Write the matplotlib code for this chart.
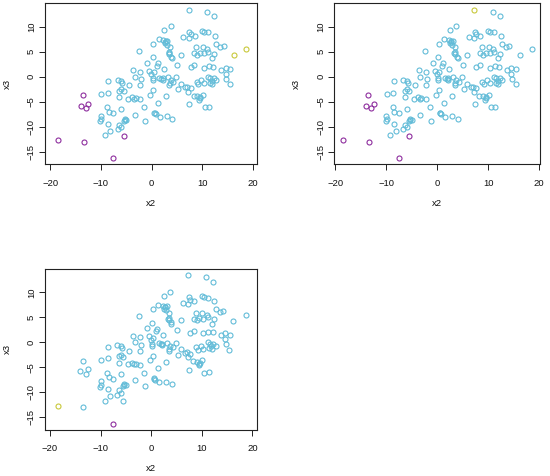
import matplotlib
matplotlib.use("Agg")
import matplotlib.pyplot as plt

plt.rcParams["font.family"] = ["Liberation Sans", "DejaVu Sans"]

# points; the first 11 are the ones that change colour between panels
x2 = [
    -18.5, -13.4, -13.5, -14.0, -12.5, -12.9, -7.5, -5.5, 16.2, 18.7, 7.3,
    # y > 5
    10.9, 12.3, 3.8, 2.5, 7.4, 7.7, 8.5, 10.0, 10.4, 11.2, 12.5, 6.3, 7.3, 1.4,
    2.3, 2.8, 3.1, 2.6, 3.0, 0.3, 12.8, 13.5, 14.2, 8.8, 10.1, 11.0, 3.6, -2.4, 2.7,
    # 2 .. 5
    3.5, 3.5, 3.9, 4.0, 5.8, 8.4, 9.0, 9.5, 10.3, 11.2, 12.4, 12.0, -0.9, 1.2,
    1.0, 5.1, 7.7, 8.4, 10.3, 11.3, 12.2, 13.8, 14.6, 15.5, 0.2, 3.4,
    # -2 .. 2
    -3.6, -2.2, -0.4, 0.4, -0.1, 2.4, -3.3, -2.0, 0.2, 0.2, 1.5, 2.2, 3.2, 4.8,
    2.2, 3.8, 4.3, 3.5, 3.6, 8.9, 9.8, 11.2, 11.6, 11.9, 12.7, 11.5, 12.0, 14.6,
    14.7, 15.4, -8.5, -6.7, -6.0, -5.8, -4.4, -2.2, 5.9, 9.2, 10.3, 1.9, 12.3,
    # -5 .. -2
    7.0, 7.7, 6.6, -9.9, -8.6, -6.4, -6.0, -5.5, -6.4, -3.8, -3.4, -2.2, -4.6,
    -0.3, 0.3, 2.9, 5.2, 7.2, 8.3, 9.0, 9.5, 10.1, 9.4, -3.1, 9.6,
    # -10 .. -5
    7.4, 1.3, -1.5, -6.0, -8.7, -8.4, -7.5, -10.0, -9.9, -10.1, -5.3, -5.0, -5.5,
    -3.3, 0.5, 0.8, 1.6, 3.0, 4.1, -1.2, -8.5, -6.4, -6.0, -6.7, 10.5, 11.4, 0.6,
    -5.3,
    # below -10
    -8.1, -9.2,
]
x3 = [
    -12.7, -13.0, -3.7, -5.8, -5.4, -6.3, -16.3, -11.8, 4.3, 5.5, 13.4,
    13.0, 12.1, 10.1, 9.3, 9.0, 8.5, 8.2, 9.2, 9.0, 8.9, 8.2, 7.9, 7.7, 7.5,
    7.3, 7.1, 7.2, 6.7, 6.4, 6.6, 6.6, 6.0, 6.2, 5.9, 5.9, 5.5, 5.9, 5.2, 7.0,
    4.9, 4.5, 4.0, 3.7, 4.4, 4.7, 4.4, 4.8, 4.7, 5.0, 4.6, 3.7, 2.8, 2.7,
    2.2, 2.4, 1.9, 2.3, 1.8, 2.1, 2.0, 1.4, 1.8, 1.5, 3.9, 4.7,
    1.3, 1.0, 1.2, 0.9, 0.5, 1.5, 0.0, -0.5, -0.3, -0.7, -0.2, -0.3, -0.1, -0.1,
    -0.6, -0.7, -1.0, -1.7, -1.3, -1.0, -0.7, 0.0, -0.3, -0.8, -0.7, -1.2, -1.4, 0.6,
    -0.4, -1.5, -0.9, -0.6, -0.8, -1.2, -1.7, -1.7, -1.4, -1.5, -1.3, -0.4, -0.3,
    -2.0, -2.3, -2.1, -3.5, -3.2, -2.8, -2.5, -2.9, -4.1, -4.1, -4.4, -4.5, -4.4,
    -3.6, -2.7, -3.9, -2.5, -3.0, -3.8, -3.9, -4.3, -3.6, -4.6, -4.3, -4.1,
    -5.5, -5.2, -6.1, -6.4, -6.1, -7.0, -7.3, -7.8, -8.5, -8.9, -8.4, -8.6, -8.8,
    -7.6, -7.3, -7.5, -8.0, -7.9, -8.4, -8.8, -9.4, -9.6, -10.1, -10.5, -6.1, -6.0, -7.2,
    -8.6,
    -10.8, -11.7,
]

# colour class per panel for the first 11 points: 0 cyan, 1 purple, 2 yellow (rest cyan)
grp_top_left = [1, 1, 1, 1, 1, 1, 1, 1, 2, 2, 0]
grp_top_right = [1, 1, 1, 1, 1, 1, 1, 1, 0, 0, 2]
grp_bottom = [2, 0, 0, 0, 0, 0, 1, 0, 0, 0, 0]

palette = {0: "#62BCD8", 1: "#8E2E9E", 2: "#C8C83A"}

W, H = 550, 476
fig = plt.figure(figsize=(W / 100, H / 100), dpi=100)


def add_panel(left, top, right, bottom, grp, xlim):
    ax = fig.add_axes([left / W, 1 - bottom / H, (right - left) / W, (bottom - top) / H])
    cls = grp + [0] * (len(x2) - len(grp))
    # cyan first so coloured points sit on top
    for c in (0, 1, 2):
        xs = [x for x, g in zip(x2, cls) if g == c]
        ys = [y for y, g in zip(x3, cls) if g == c]
        ax.plot(xs, ys, linestyle="none", marker="o", markersize=3.6,
                markerfacecolor="none", markeredgecolor=palette[c], markeredgewidth=0.8)
    ax.set_xlim(*xlim)
    ax.set_ylim(-17.5, 14.7)
    ax.set_xticks([-20, -10, 0, 10, 20])
    ax.set_yticks([-15, -10, -5, 0, 5, 10])
    for s in ax.spines.values():
        s.set_color("#222222")
        s.set_linewidth(0.8)
    ax.tick_params(axis="both", direction="out", length=4.3, width=0.7,
                   color="#222222", labelsize=6.8, labelcolor="#111111")
    ax.tick_params(axis="x", pad=6)
    ax.tick_params(axis="y", pad=2.2)
    for lab in ax.get_yticklabels():
        lab.set_rotation(90)
        lab.set_va("center")
    w = right - left
    h = bottom - top
    ax.text(0.5, -39 / h, "x2", transform=ax.transAxes, ha="center", va="center",
            fontsize=6.8, color="#111111")
    ax.text(-38 / w, 0.5, "x3", transform=ax.transAxes, ha="center", va="center",
            rotation=90, fontsize=6.8, color="#111111")
    return ax


add_panel(45, 3.3, 257, 164.3, grp_top_left, (-21.0, 20.8))
add_panel(334.3, 3.3, 540, 164.3, grp_top_right, (-20.2, 20.2))
add_panel(45, 269, 257, 429.7, grp_bottom, (-21.0, 20.9))

fig.savefig("out.png", dpi=100)
plt.close(fig)
